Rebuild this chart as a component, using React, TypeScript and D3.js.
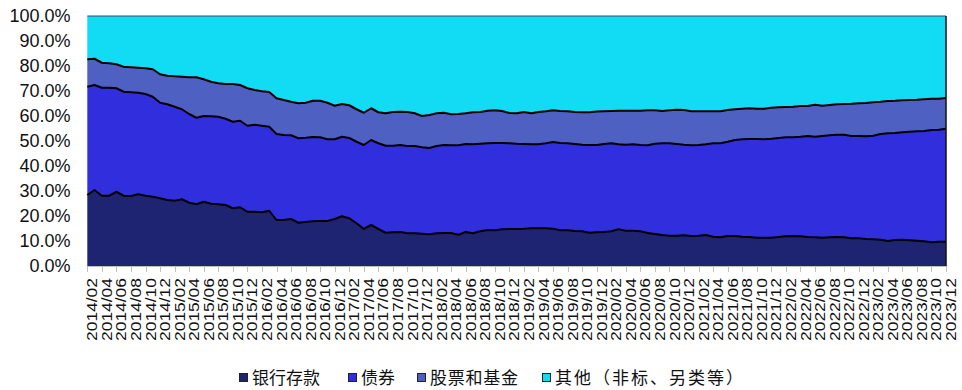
import React, { useEffect, useRef } from "react";
import * as d3 from "d3";

// Monthly categories, 2014/02 – 2023/12
const MONTHS: string[] = d3
  .timeMonth.range(new Date(2014, 1, 1), new Date(2024, 0, 1))
  .map(d3.timeFormat("%Y/%m"));

// Asset allocation shares (%)
const DEPOSITS = [
  28.4, 30.4, 28.1, 28.1, 29.7, 28.1, 28.0, 28.7, 28.1, 27.7,
  27.1, 26.4, 26.1, 26.7, 25.3, 24.7, 25.7, 24.9, 24.7, 24.4,
  23.1, 23.5, 21.7, 21.7, 21.5, 22.1, 18.4, 18.4, 18.8, 17.3,
  17.6, 17.9, 18.0, 18.0, 18.8, 19.9, 19.1, 17.1, 14.8, 16.4,
  14.8, 13.3, 13.5, 13.6, 13.1, 13.1, 12.9, 12.7, 13.1, 13.2,
  13.2, 12.5, 13.6, 13.1, 13.9, 14.4, 14.3, 14.7, 14.8, 14.8,
  14.9, 15.1, 15.1, 15.1, 14.9, 14.3, 14.3, 14.0, 13.9, 13.3,
  13.5, 13.6, 13.9, 14.7, 14.1, 14.1, 13.9, 13.2, 12.8, 12.4,
  12.1, 12.1, 12.3, 12.0, 12.1, 12.4, 11.7, 11.5, 12.0, 12.0,
  11.7, 11.6, 11.3, 11.3, 11.3, 11.6, 11.9, 12.0, 11.9, 11.6,
  11.5, 11.3, 11.5, 11.6, 11.5, 11.1, 11.1, 10.8, 10.7, 10.5,
  10.0, 10.4, 10.5, 10.3, 10.1, 9.9, 9.5, 9.7, 9.7,
];
const BONDS = [
  43.3, 42.0, 43.2, 43.2, 41.4, 41.6, 41.5, 40.6, 40.7, 40.0,
  38.2, 38.3, 37.6, 36.0, 35.5, 34.6, 34.3, 35.0, 35.0, 34.5,
  34.6, 34.6, 34.4, 34.8, 34.6, 33.6, 34.4, 34.0, 33.5, 33.8,
  33.7, 33.7, 33.5, 32.7, 31.9, 31.8, 32.1, 32.6, 33.6, 34.0,
  34.3, 34.8, 34.6, 34.8, 34.9, 34.9, 34.6, 34.5, 34.9, 35.2,
  35.1, 35.8, 35.2, 35.6, 35.0, 34.7, 34.9, 34.5, 34.3, 34.1,
  33.9, 33.6, 33.6, 34.0, 34.7, 34.9, 34.8, 34.8, 34.6, 35.1,
  34.9, 35.2, 35.2, 34.0, 34.4, 34.6, 34.5, 35.1, 36.1, 36.7,
  37.0, 36.7, 36.2, 36.3, 36.3, 36.3, 37.4, 37.6, 37.7, 38.4,
  39.0, 39.2, 39.5, 39.4, 39.6, 39.6, 39.6, 39.5, 39.8, 40.4,
  40.2, 40.7, 40.8, 40.9, 41.0, 40.9, 40.9, 41.1, 41.4, 42.3,
  43.1, 42.8, 43.0, 43.4, 43.8, 44.1, 44.9, 44.8, 45.2,
];
const EQUITIES = [
  11.0, 10.5, 10.0, 9.8, 9.6, 10.0, 10.0, 10.0, 10.3, 11.0,
  11.4, 11.4, 12.2, 13.0, 14.7, 16.2, 14.7, 13.8, 13.4, 13.9,
  15.1, 14.3, 15.0, 13.9, 13.8, 13.9, 14.3, 14.0, 13.4, 14.0,
  14.0, 14.5, 14.6, 14.6, 13.4, 13.1, 13.1, 13.0, 12.9, 12.7,
  12.4, 13.0, 13.5, 13.3, 13.6, 13.1, 12.5, 13.2, 13.1, 12.9,
  12.4, 12.5, 12.3, 12.8, 12.7, 13.0, 13.1, 12.8, 12.1, 12.2,
  12.8, 12.4, 12.9, 12.8, 12.7, 12.8, 12.8, 12.8, 13.0, 13.1,
  13.4, 13.1, 12.9, 13.4, 13.6, 13.4, 13.7, 14.0, 13.4, 12.9,
  13.2, 13.7, 13.9, 13.6, 13.5, 13.2, 12.8, 12.8, 12.7, 12.3,
  12.2, 12.3, 12.1, 12.2, 12.4, 12.3, 12.1, 12.2, 12.3, 12.0,
  12.8, 12.1, 12.1, 12.2, 12.3, 12.9, 13.1, 13.3, 13.4, 12.9,
  12.9, 12.9, 12.8, 12.7, 12.6, 12.7, 12.5, 12.4, 12.3,
];
const OTHERS = [
  17.3, 17.1, 18.7, 18.9, 19.3, 20.3, 20.5, 20.7, 20.9, 21.3,
  23.3, 23.9, 24.1, 24.3, 24.5, 24.5, 25.3, 26.3, 26.9, 27.2,
  27.2, 27.6, 28.9, 29.6, 30.1, 30.4, 32.9, 33.6, 34.3, 34.9,
  34.7, 33.9, 33.9, 34.7, 35.9, 35.2, 35.7, 37.3, 38.7, 36.9,
  38.5, 38.9, 38.4, 38.3, 38.4, 38.9, 40.0, 39.6, 38.9, 38.7,
  39.3, 39.2, 38.9, 38.5, 38.4, 37.9, 37.7, 38.0, 38.8, 38.9,
  38.4, 38.9, 38.4, 38.1, 37.7, 38.0, 38.1, 38.4, 38.5, 38.5,
  38.2, 38.1, 38.0, 37.9, 37.9, 37.9, 37.9, 37.7, 37.7, 38.0,
  37.7, 37.5, 37.6, 38.1, 38.1, 38.1, 38.1, 38.1, 37.6, 37.3,
  37.1, 36.9, 37.1, 37.1, 36.7, 36.5, 36.4, 36.3, 36.0, 36.0,
  35.5, 35.9, 35.6, 35.3, 35.2, 35.1, 34.9, 34.8, 34.5, 34.3,
  34.0, 33.9, 33.7, 33.6, 33.5, 33.3, 33.1, 33.1, 32.8,
];

const SERIES_NAMES = ["银行存款", "债券", "股票和基金", "其他（非标、另类等）"];
const SERIES_KEYS = ["deposits", "bonds", "equities", "others"];
const COLORS = ["#1F2472", "#312EDD", "#4F60C3", "#12DBF4"];
const Y_TICKS = [0, 10, 20, 30, 40, 50, 60, 70, 80, 90, 100];

const W = 962;
const H = 390;
const M = { left: 87.3, right: 946, top: 16, bottom: 266 };

// Legend layout: marker x and label width per entry
const LEGEND_X = [239, 348, 417, 542];
const LEGEND_W = [68, 34, 88, 188];

export default function App() {
  const ref = useRef<SVGSVGElement | null>(null);

  useEffect(() => {
    const svg = d3.select(ref.current);
    svg.selectAll("*").remove();

    const rows = MONTHS.map((m, i) => ({
      month: m,
      deposits: DEPOSITS[i],
      bonds: BONDS[i],
      equities: EQUITIES[i],
      others: OTHERS[i],
    }));

    const x = d3.scalePoint<string>().domain(MONTHS).range([M.left, M.right]);
    const y = d3.scaleLinear().domain([0, 100]).range([M.bottom, M.top]);

    const stack = d3
      .stack<any>()
      .keys(SERIES_KEYS)
      .offset(d3.stackOffsetExpand);
    const layers = stack(rows);

    const area = d3
      .area<any>()
      .x((d) => x(d.data.month)!)
      .y0((d) => y(d[0] * 100))
      .y1((d) => y(d[1] * 100));

    const topLine = d3
      .line<any>()
      .x((d) => x(d.data.month)!)
      .y((d) => y(d[1] * 100));

    const g = svg.append("g");
    g.selectAll("path.area")
      .data(layers)
      .join("path")
      .attr("class", "area")
      .attr("d", area as any)
      .attr("fill", (_d, i) => COLORS[i]);

    // Series boundaries
    g.selectAll("path.edge")
      .data(layers.slice(0, 3))
      .join("path")
      .attr("class", "edge")
      .attr("d", topLine as any)
      .attr("fill", "none")
      .attr("stroke", "#000")
      .attr("stroke-width", 2)
      .attr("stroke-linejoin", "round");

    // Top and right outline of the stack
    g.append("line")
      .attr("x1", M.left)
      .attr("x2", M.right)
      .attr("y1", y(100))
      .attr("y2", y(100))
      .attr("stroke", "#3a4a5a")
      .attr("stroke-width", 1);
    g.append("line")
      .attr("x1", M.right)
      .attr("x2", M.right)
      .attr("y1", y(100))
      .attr("y2", y(0))
      .attr("stroke", "#111")
      .attr("stroke-width", 1.5);

    // Y axis labels
    svg
      .append("g")
      .selectAll("text")
      .data(Y_TICKS)
      .join("text")
      .attr("x", 70.5)
      .attr("y", (d) => y(d))
      .attr("dy", "0.36em")
      .attr("text-anchor", "end")
      .attr("font-family", "'Liberation Sans', Arial, sans-serif")
      .attr("font-size", 18)
      .attr("fill", "#111")
      .text((d) => d.toFixed(1) + "%");

    // X axis
    const xa = svg.append("g");
    xa.append("line")
      .attr("x1", M.left)
      .attr("x2", M.right)
      .attr("y1", M.bottom + 0.5)
      .attr("y2", M.bottom + 0.5)
      .attr("stroke", "#bfbfbf")
      .attr("stroke-width", 1);
    const labeled = MONTHS.filter((_m, i) => i % 2 === 0);
    xa.selectAll("line.tick")
      .data(labeled)
      .join("line")
      .attr("class", "tick")
      .attr("x1", (d) => Math.round(x(d)!) + 0.5)
      .attr("x2", (d) => Math.round(x(d)!) + 0.5)
      .attr("y1", M.bottom)
      .attr("y2", M.bottom + 6)
      .attr("stroke", "#bfbfbf")
      .attr("stroke-width", 1);
    xa.selectAll("text")
      .data(labeled)
      .join("text")
      .attr("transform", (d) => `translate(${x(d)! + 5},${M.bottom + 12}) rotate(-90)`)
      .attr("dy", "0.36em")
      .attr("text-anchor", "end")
      .attr("font-family", "'Liberation Sans', Arial, sans-serif")
      .attr("font-size", 14)
      .attr("textLength", 63)
      .attr("lengthAdjust", "spacingAndGlyphs")
      .attr("fill", "#111")
      .text((d) => d);

    // Legend
    const lg = svg.append("g");
    SERIES_NAMES.forEach((name, i) => {
      lg.append("rect")
        .attr("x", LEGEND_X[i] + 0.5)
        .attr("y", 373.5)
        .attr("width", 8)
        .attr("height", 8)
        .attr("fill", COLORS[i])
        .attr("stroke", "#222")
        .attr("stroke-width", 1);
      lg.append("text")
        .attr("x", LEGEND_X[i] + 13)
        .attr("y", 377.5)
        .attr("dy", "0.36em")
        .attr("font-family", "'Noto Sans CJK SC', sans-serif")
        .attr("font-size", 17)
        .attr("textLength", LEGEND_W[i])
        .attr("lengthAdjust", "spacing")
        .attr("fill", "#111")
        .text(name);
    });
  }, []);

  return (
    <div style={{ position: "absolute", left: 0, top: 0 }}>
      <svg ref={ref} width={W} height={H} style={{ display: "block", background: "#fff" }} />
    </div>
  );
}
